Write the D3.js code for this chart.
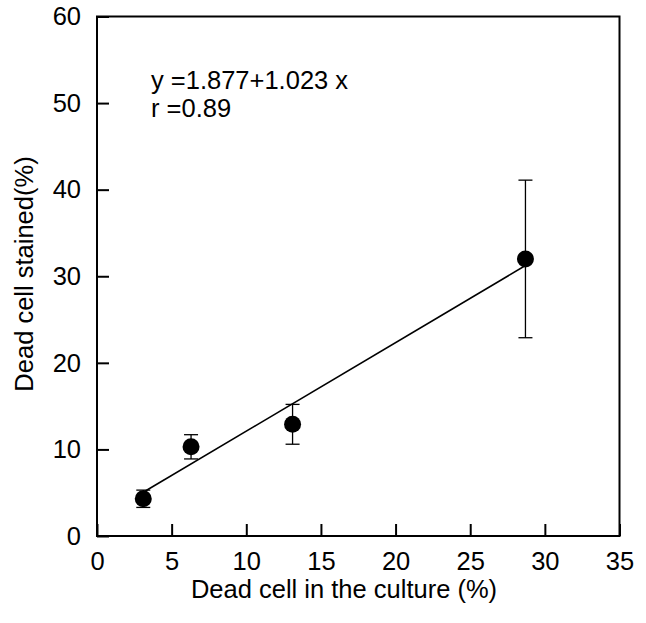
<!DOCTYPE html>
<head>
<meta charset="utf-8">
<style>
body { margin: 0; background: #fff; }
svg { display: block; }
text { font-family: "Liberation Sans", Arial, sans-serif; fill: #000; }
.axis path, .axis line { stroke: #000; stroke-width: 2px; }
.axis text { font-size: 25.5px; }
</style>
</head>
<body>
<svg width="646" height="623"></svg>
<script src="https://d3js.org/d3.v7.min.js"></script>
<script>
// dead cells in the culture vs. dead cells stained
var xVals = [3.1, 6.3, 13.1, 28.7];
var yVals = [4.3, 10.3, 12.9, 32.0];
var yErr = [1.0, 1.4, 2.3, 9.1];
var xTicks = [0, 5, 10, 15, 20, 25, 30, 35];
var yTicks = [0, 10, 20, 30, 40, 50, 60];
var fit = { a: 1.877, b: 1.023, r: 0.89 };

var svg = d3.select("svg");
var x = d3.scaleLinear().domain([0, 35]).range([97, 619.5]);
var y = d3.scaleLinear().domain([0, 60]).range([536, 16.5]);

// frame
svg.append("rect")
    .attr("x", x(0)).attr("y", y(60))
    .attr("width", x(35) - x(0)).attr("height", y(0) - y(60))
    .attr("fill", "none").attr("stroke", "#000").attr("stroke-width", 2);

var xAxis = svg.append("g").attr("class", "axis")
    .attr("transform", "translate(0," + y(0) + ")")
    .call(d3.axisBottom(x).tickValues(xTicks).tickSizeInner(-12).tickSizeOuter(0));
xAxis.selectAll("text").attr("dy", "0.71em").attr("y", 16);

var yAxis = svg.append("g").attr("class", "axis")
    .attr("transform", "translate(" + x(0) + ",0)")
    .call(d3.axisLeft(y).tickValues(yTicks).tickSizeInner(-12).tickSizeOuter(0));
yAxis.selectAll("text").attr("x", -16);
svg.selectAll(".axis .domain").remove();

// regression line
var x0 = d3.min(xVals), x1 = d3.max(xVals);
svg.append("line")
    .attr("x1", x(x0)).attr("y1", y(fit.a + fit.b * x0))
    .attr("x2", x(x1)).attr("y2", y(fit.a + fit.b * x1))
    .attr("stroke", "#000").attr("stroke-width", 1.6);

// error bars
var pts = xVals.map(function(v, i) { return { x: v, y: yVals[i], e: yErr[i] }; });
var eb = svg.append("g").attr("stroke", "#000").attr("stroke-width", 1.3);
pts.forEach(function(d) {
  eb.append("line").attr("x1", x(d.x)).attr("x2", x(d.x))
      .attr("y1", y(d.y - d.e)).attr("y2", y(d.y + d.e));
  [d.y - d.e, d.y + d.e].forEach(function(v) {
    eb.append("line").attr("x1", x(d.x) - 7).attr("x2", x(d.x) + 7)
        .attr("y1", y(v)).attr("y2", y(v));
  });
});

svg.selectAll("circle.pt")
  .data(pts)
  .enter().append("circle")
    .attr("class", "pt")
    .attr("cx", function(d) { return x(d.x); })
    .attr("cy", function(d) { return y(d.y); })
    .attr("r", 8.5)
    .attr("fill", "#000");

// equation
svg.append("text").attr("x", 151).attr("y", 89).style("font-size", "25.5px")
    .text("y =" + fit.a + "+" + fit.b + " x");
svg.append("text").attr("x", 151).attr("y", 117).style("font-size", "25.5px")
    .text("r =" + fit.r);

// axis titles
svg.append("text").attr("x", 344).attr("y", 598)
    .attr("text-anchor", "middle").style("font-size", "25.5px")
    .text("Dead cell in the culture (%)");
svg.append("text")
    .attr("transform", "translate(33,274) rotate(-90)")
    .attr("text-anchor", "middle").style("font-size", "25.5px")
    .text("Dead cell stained(%)");
</script>
</body>
